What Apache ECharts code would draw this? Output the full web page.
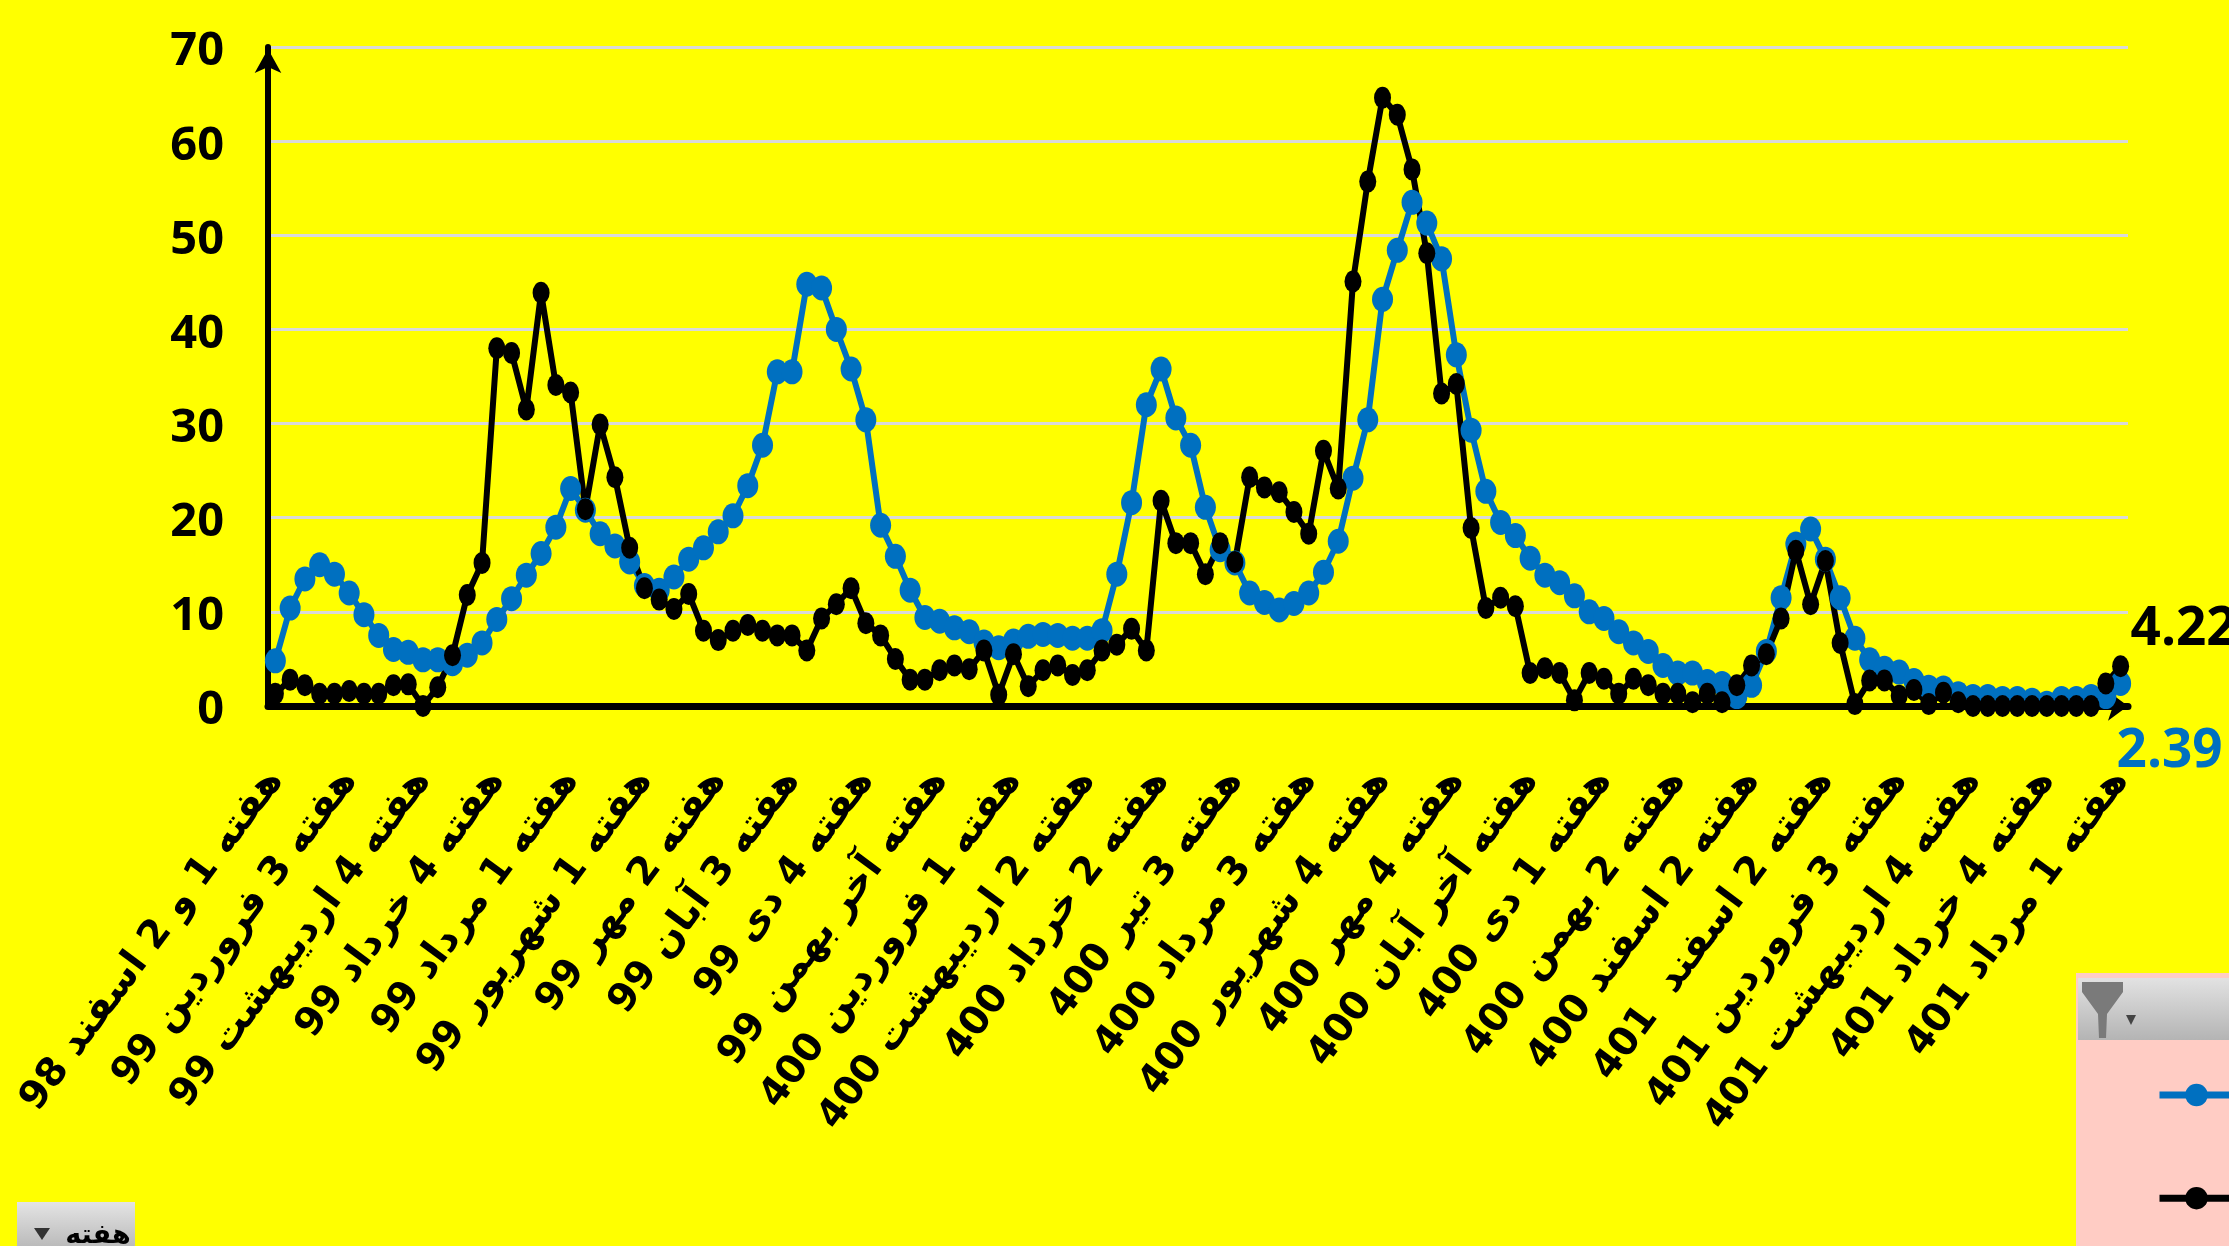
<!DOCTYPE html>
<html><head><meta charset="utf-8">
<style>html,body{margin:0;padding:0;background:#ffff00;overflow:hidden}#c{width:2229px;height:1246px}</style>
<script src="https://cdn.jsdelivr.net/npm/echarts@6/dist/echarts.min.js"></script>
</head><body><div id="c"></div>
<script>
const tickLabels = [
"هفته 1 و 2 اسفند 98","هفته 3 فروردین 99","هفته 4 اردیبهشت 99","هفته 4 خرداد 99","هفته 1 مرداد 99","هفته 1 شهریور 99",
"هفته 2 مهر 99","هفته 3 آبان 99","هفته 4 دی 99","هفته آخر بهمن 99","هفته 1 فروردین 400","هفته 2 اردیبهشت 400",
"هفته 2 خرداد 400","هفته 3 تیر 400","هفته 3 مرداد 400","هفته 4 شهریور 400","هفته 4 مهر 400","هفته آخر آبان 400",
"هفته 1 دی 400","هفته 2 بهمن 400","هفته 2 اسفند 400","هفته 2 اسفند  401","هفته 3 فروردین 401","هفته 4 اردیبهشت 401",
"هفته 4 خرداد 401","هفته 1 مرداد 401"];
const yTicks = [0,10,20,30,40,50,60,70];
const blueValues = [4.8,10.4,13.5,15,14,12,9.7,7.5,6,5.7,4.9,4.9,4.5,5.4,6.7,9.2,11.4,13.9,16.2,19,
23.1,20.8,18.3,17,15.3,12.8,12.3,13.7,15.6,16.8,18.5,20.2,23.4,27.7,35.5,35.5,44.8,44.4,40,35.8,
30.4,19.2,15.9,12.3,9.4,9,8.3,7.9,6.8,6.2,6.9,7.4,7.6,7.5,7.2,7.2,8,14,21.6,32,
35.8,30.6,27.7,21.1,16.6,15.2,12,11,10.2,10.9,12,14.2,17.5,24.2,30.4,43.2,48.4,53.5,51.3,47.5,
37.3,29.3,22.8,19.5,18.1,15.7,13.9,13.1,11.7,10,9.3,7.9,6.7,5.8,4.3,3.5,3.5,2.6,2.4,1,
2.2,5.8,11.5,17.2,18.8,15.6,11.5,7.2,4.9,4,3.6,2.7,2,1.9,1.3,1,1,0.8,0.8,0.6,
0.3,0.8,0.8,1,1,2.39];
const blackValues = [1.3,2.8,2.2,1.3,1.3,1.6,1.3,1.3,2.2,2.3,0,2,5.4,11.8,15.2,38,37.5,31.5,43.9,34.1,
33.3,20.9,29.9,24.3,16.8,12.5,11.3,10.3,11.9,8,7,8,8.6,8,7.5,7.5,5.9,9.3,10.8,12.5,
8.8,7.5,5,2.8,2.8,3.8,4.3,3.9,5.9,1.2,5.5,2.1,3.8,4.3,3.3,3.8,5.9,6.5,8.2,5.9,
21.8,17.3,17.3,14,17.3,15.3,24.3,23.2,22.7,20.6,18.3,27.1,23.1,45.1,55.7,64.6,62.8,57,48.1,33.2,
34.2,18.9,10.4,11.5,10.6,3.5,4,3.5,0.6,3.5,2.9,1.3,2.9,2.2,1.3,1.3,0.4,1.3,0.4,2.2,
4.3,5.5,9.3,16.5,10.8,15.4,6.7,0.2,2.7,2.7,1.1,1.7,0.2,1.4,0.4,0,0,0,0,0,
0,0,0,0,2.4,4.22];
const categories = blueValues.map((v,i)=> i%5===0 ? tickLabels[i/5] : ' ');
const blue = '#0070C0', black = '#000000';
const numFont = '"Open Sans",sans-serif';
const chart = echarts.init(document.getElementById('c'),null,{renderer:'canvas'});
const grad = (a,b)=>new echarts.graphic.LinearGradient(0,0,0,1,[{offset:0,color:a},{offset:1,color:b}]);
chart.setOption({
  animation:false,
  backgroundColor:'#FFFF00',
  grid:{left:268,right:101,top:47,bottom:540,containLabel:false},
  xAxis:{type:'category',data:categories,boundaryGap:true,
    axisLine:{lineStyle:{color:black,width:7},symbol:['none','arrow'],symbolSize:[22,20],symbolOffset:[0,0]},
    axisTick:{show:false},
    axisLabel:{interval:4,rotate:53.5,margin:68,color:black,fontFamily:'DejaVu Sans',fontWeight:'bold',fontSize:39}},
  yAxis:{type:'value',min:0,max:70,interval:10,
    axisLine:{show:true,lineStyle:{color:black,width:6},symbol:['none','arrow'],symbolSize:[20,24],symbolOffset:[0,-2]},
    axisTick:{show:false},
    splitLine:{lineStyle:{color:'#D9D9D9',width:3}},
    axisLabel:{margin:44,formatter:v=>yTicks.includes(v)?'{n|'+v+'}':'',
      rich:{n:{color:black,fontFamily:numFont,fontWeight:'bold',fontSize:47,padding:[10,0,0,0]}}}},
  legend:{left:2156,top:1081,orient:'vertical',itemWidth:74,itemHeight:28,itemGap:78,padding:0,
    formatter:()=>'',selectedMode:false,
    data:[{name:'blue',lineStyle:{width:7}},{name:'black',lineStyle:{width:7}}]},
  series:[
    {name:'blue',type:'line',data:blueValues,smooth:false,symbol:'circle',symbolSize:[21,25],showAllSymbol:true,clip:false,
     lineStyle:{color:blue,width:6},itemStyle:{color:blue},
     endLabel:{show:true,formatter:p=>String(p.value),color:blue,fontFamily:numFont,fontWeight:'bold',fontSize:53,offset:[-12,68]}},
    {name:'black',type:'line',data:blackValues,smooth:false,symbol:'circle',symbolSize:[17,22],showAllSymbol:true,clip:false,
     lineStyle:{color:black,width:6},itemStyle:{color:black},
     endLabel:{show:true,formatter:p=>String(p.value),color:black,fontFamily:numFont,fontWeight:'bold',fontSize:53,offset:[2,-36]}}
  ],
  graphic:[
    {type:'rect',z:-1,shape:{x:2076,y:973,width:153,height:273},style:{fill:'#FFCCC4'},silent:true},
    {type:'rect',z:-1,shape:{x:2078,y:978,width:151,height:62},style:{fill:grad('#E2E2E2','#B4B4B4')},silent:true},
    {type:'polygon',z:-1,shape:{points:[[2082,982],[2123,982],[2123,992],[2107,1014],[2106,1038],[2099,1038],[2098,1014],[2082,992]]},style:{fill:'#7A7A7A'},silent:true},
    {type:'polygon',z:-1,shape:{points:[[2126,1015],[2136,1015],[2131,1025]]},style:{fill:'#444'},silent:true},
    {type:'rect',z:-1,shape:{x:17,y:1202,width:118,height:44},style:{fill:grad('#E4E4E4','#BBBBBB')},silent:true},
    {type:'polygon',z:-1,shape:{points:[[34,1228],[50,1228],[42,1240]]},style:{fill:'#333'},silent:true},
    {type:'text',z:-1,style:{x:98,y:1236,text:'هفته',fill:'#000',font:'bold 27px "DejaVu Sans"',textAlign:'center',textVerticalAlign:'middle'},silent:true}
  ]
});
</script></body></html>
